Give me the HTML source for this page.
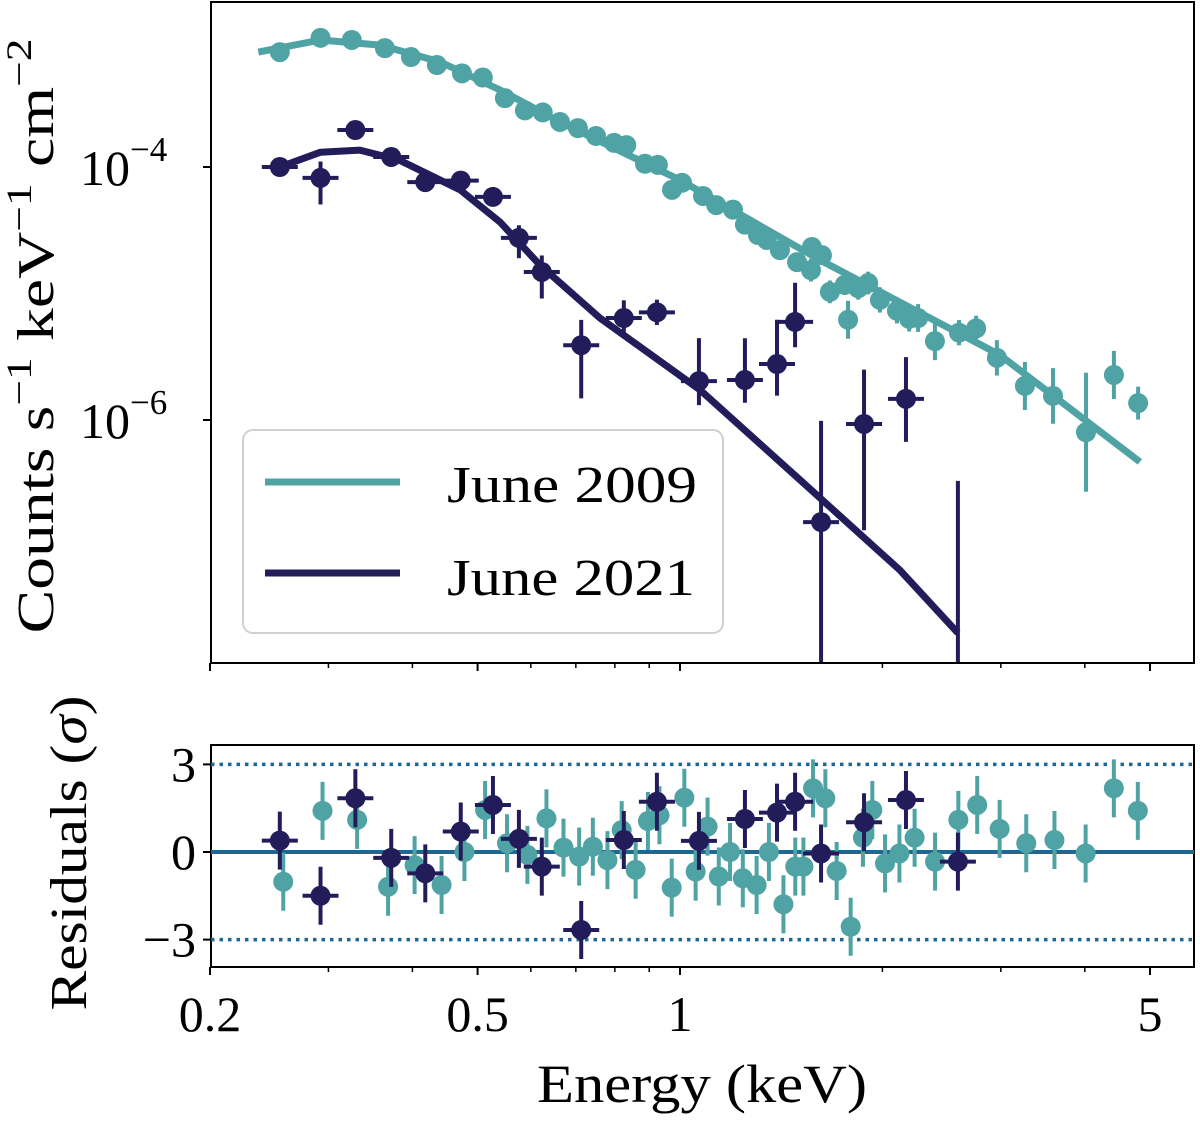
<!DOCTYPE html>
<html><head><meta charset="utf-8"><style>
html,body{margin:0;padding:0;background:#fff;}
svg{display:block;font-family:"Liberation Serif",serif;}
</style></head><body>
<svg id="chart" width="1200" height="1123" viewBox="0 0 1200 1123" xmlns="http://www.w3.org/2000/svg"></svg>
<script>
// ---- data ----
const e2009 = [0.254,0.292,0.325,0.364,0.398,0.435,0.474,0.509,0.549,0.588,0.625,0.663,0.705,0.750,0.798,0.832,0.887,0.927,0.973,1.007,1.082,1.132,1.199,1.249,1.306,1.346,1.408,1.493,1.571,1.626,1.566,1.671,1.758,1.841,1.905,1.983,2.102,2.192,2.260,2.394,2.600,2.757,2.960,3.258,3.587,4.016,4.419,4.801,1.778];
const f2009 = [8.1e-4,1.05e-3,1.01e-3,8.7e-4,7.4e-4,6.4e-4,5.5e-4,5.1e-4,3.5e-4,2.8e-4,2.7e-4,2.27e-4,2.03e-4,1.76e-4,1.55e-4,1.49e-4,1.06e-4,1.04e-4,6.6e-5,7.5e-5,5.9e-5,5.0e-5,4.6e-5,3.5e-5,2.9e-5,2.65e-5,2.2e-5,1.77e-5,2.33e-5,2.01e-5,1.53e-5,1.03e-5,1.17e-5,1.1e-5,1.21e-5,8.9e-6,7.3e-6,6.3e-6,6.4e-6,4.2e-6,4.9e-6,5.3e-6,3.1e-6,1.86e-6,1.55e-6,8.0e-7,2.27e-6,1.36e-6,6.2e-6];
const ferr2009 = [0.03,0.03,0.03,0.03,0.03,0.03,0.03,0.03,0.03,0.03,0.03,0.03,0.03,0.03,0.03,0.03,0.04,0.04,0.04,0.04,0.05,0.05,0.05,0.06,0.06,0.06,0.07,0.07,0.06,0.06,0.09,0.09,0.08,0.09,0.09,0.1,0.1,0.1,0.11,0.15,0.1,0.1,0.14,0.19,0.22,0.47,0.19,0.13,0.15];
const e2021 = [0.254,0.292,0.329,0.372,0.418,0.472,0.527,0.576,0.623,0.713,0.825,0.924,1.067,1.249,1.394,1.483,1.621,1.878,2.168];
const f2021 = [1.0e-4,8.2e-5,1.96e-4,1.2e-4,7.6e-5,7.8e-5,5.8e-5,2.75e-5,1.48e-5,3.9e-6,6.4e-6,7.1e-6,2.03e-6,2.07e-6,2.77e-6,5.96e-6,1.56e-7,9.3e-7,1.47e-6];
const errUp2021 = [0.06,0.13,0.05,0.06,0.06,0.05,0.05,0.1,0.13,0.2,0.14,0.1,0.34,0.33,0.35,0.31,0.8,0.43,0.33];
const errDn2021 = [0.06,0.21,0.05,0.06,0.06,0.05,0.05,0.16,0.21,0.42,0.13,0.1,0.19,0.18,0.25,0.2,1.2,0.84,0.34];
const limE2021 = [2.590];
const limTop2021 = [3.3e-7];
const mE2009 = [0.236,0.292,0.358,0.440,0.540,0.663,1.0,1.615,2.99,4.83];
const mF2009 = [8.1e-4,1.01e-3,9.2e-4,6.76e-4,4.06e-4,2.27e-4,7.9e-5,1.84e-5,3.27e-6,4.66e-7];
const mE2021 = [0.254,0.292,0.334,0.383,0.471,0.540,0.619,0.760,1.071,1.508,2.124,2.590];
const mF2021 = [1.0e-4,1.31e-4,1.36e-4,1.13e-4,6.6e-5,3.67e-5,1.68e-5,6.4e-6,1.73e-6,3.36e-7,6.5e-8,2.07e-8];
const rE2009 = [0.257,0.294,0.331,0.368,0.403,0.442,0.478,0.513,0.553,0.593,0.633,0.671,0.708,0.742,0.780,0.819,0.859,0.896,0.932,0.972,1.015,1.055,1.099,1.142,1.187,1.240,1.300,1.356,1.425,1.484,1.526,1.577,1.645,1.710,1.794,1.871,1.932,2.018,2.120,2.233,2.395,2.594,2.767,2.988,3.273,3.605,4.011,4.418,4.796];
const r2009 = [-1.02,1.41,1.10,-1.19,-0.45,-1.13,0.0,1.44,0.30,-0.10,1.15,0.15,-0.16,0.18,-0.28,0.75,-0.61,1.06,1.26,-1.22,1.86,-0.67,0.87,-0.84,0.0,-0.90,-1.13,0.0,-1.79,-0.50,-0.50,2.18,1.84,-0.65,-2.56,0.49,1.44,-0.39,-0.05,0.49,-0.33,1.10,1.61,0.79,0.30,0.41,-0.05,2.18,1.41];
const rE2021 = [0.254,0.292,0.329,0.372,0.418,0.472,0.527,0.576,0.623,0.713,0.825,0.924,1.067,1.249,1.394,1.483,1.621,1.878,2.168,2.590];
const r2021 = [0.39,-1.50,1.84,-0.20,-0.73,0.70,1.61,0.45,-0.50,-2.67,0.41,1.72,0.38,1.13,1.35,1.72,-0.05,1.02,1.78,-0.33];
const xMajor = [0.2,0.5,1,5];
const xMajorLbl = ["0.2","0.5","1","5"];
const xMinor = [0.3,0.4,0.6,0.7,0.8,0.9,2,3,4];
const yMajor = [1e-4,1e-6];
const yMajorExp = ["−4","−6"];
const rTicks = [3,0,-3];
const rTickLbl = ["3","0","−3"];

// ---- scales ----
const X0=211,X1=1194, TY0=2,TY1=663, RY0=745,RY1=967;
const xs = e => 680 + Math.log10(e)*672.4;
const ys = f => 167 - (Math.log10(f)+4)*126.5;
const rs = r => 852 - r*29.2;
const TEAL="#4fa3a5", NAVY="#221d5a", BLUE="#1f6790";
const svg=document.getElementById('chart');
const NS="http://www.w3.org/2000/svg";
function mk(tag,attrs,parent){const el=document.createElementNS(NS,tag);for(const k in attrs)el.setAttribute(k,attrs[k]);(parent||svg).appendChild(el);return el;}

const defs=mk('defs',{});
const cp=mk('clipPath',{id:'ctop'},defs);mk('rect',{x:X0,y:TY0,width:X1-X0,height:TY1-TY0},cp);
const cp2=mk('clipPath',{id:'cres'},defs);mk('rect',{x:X0,y:RY0,width:X1-X0,height:RY1-RY0},cp2);

const gTop=mk('g',{'clip-path':'url(#ctop)'});



function errPoint(g,cx,cy,yt,yb,hw,col,r,name){
  const gp=mk('g',{},g);
  
  
  mk('line',{x1:cx,x2:cx,y1:yt,y2:yb,stroke:col,'stroke-width':4},gp);
  mk('line',{x1:cx-hw,x2:cx+hw,y1:cy,y2:cy,stroke:col,'stroke-width':4},gp);
  mk('circle',{cx:cx,cy:cy,r:r,fill:col},gp);
}
function modelLine(g,E,F,col,name){
  const d=E.map((e,i)=>(i?'L':'M')+xs(e).toFixed(1)+','+ys(F[i]).toFixed(1)).join(' ');
  const p=mk('path',{d:d,fill:'none',stroke:col,'stroke-width':7,'stroke-linejoin':'round'},g);
  
  
}
e2009.forEach((e,i)=>{
  const cy=ys(f2009[i]);const d=ferr2009[i]*126.5;
  errPoint(gTop,xs(e),cy,cy-d,cy+d,9,TEAL,10,'data-point-2009');
});
modelLine(gTop,mE2009,mF2009,TEAL,'model-line-2009');
e2021.forEach((e,i)=>{
  const cy=ys(f2021[i]);
  errPoint(gTop,xs(e),cy,cy-errUp2021[i]*126.5,cy+errDn2021[i]*126.5,18,NAVY,10,'data-point-2021');
});
limE2021.forEach((e,i)=>{
  const l=mk('line',{x1:xs(e),x2:xs(e),y1:ys(limTop2021[i]),y2:TY1,stroke:NAVY,'stroke-width':4},gTop);
  
  
});
modelLine(gTop,mE2021,mF2021,NAVY,'model-line-2021');

function frame(y0,y1,name){const r=mk('rect',{x:X0,y:y0,width:X1-X0,height:y1-y0,fill:'none',stroke:'#000','stroke-width':2});
  }
frame(TY0,TY1,'spectrum-axes-frame');
frame(RY0,RY1,'residual-axes-frame');

[TY1,RY1].forEach(yb=>{
  xMajor.forEach(v=>mk('line',{x1:xs(v),x2:xs(v),y1:yb,y2:yb+8,stroke:'#000','stroke-width':2}));
  xMinor.forEach(v=>mk('line',{x1:xs(v),x2:xs(v),y1:yb,y2:yb+5,stroke:'#000','stroke-width':1.5}));
});
xMajor.forEach((v,i)=>{const t=mk('text',{x:xs(v),y:1031,'font-size':50,'text-anchor':'middle'});t.textContent=xMajorLbl[i];
  });
yMajor.forEach((v,i)=>{
  mk('line',{x1:X0,x2:X0-8,y1:ys(v),y2:ys(v),stroke:'#000','stroke-width':2});
  const t=mk('text',{x:80,y:ys(v)+18,'font-size':50});
  
  t.appendChild(document.createTextNode('10'));
  const s=mk('tspan',{'font-size':35,dy:-24},t);s.textContent=yMajorExp[i];
});
const gRes=mk('g',{'clip-path':'url(#cres)'});


[3,-3].forEach(v=>{const l=mk('line',{x1:X0,x2:X1,y1:rs(v),y2:rs(v),stroke:BLUE,'stroke-width':3.5,'stroke-dasharray':'3.5 5'},gRes);
  });
const zl=mk('line',{x1:X0,x2:X1,y1:rs(0),y2:rs(0),stroke:BLUE,'stroke-width':4},gRes);

rE2009.forEach((e,i)=>{const cy=rs(r2009[i]);errPoint(gRes,xs(e),cy,cy-29,cy+29,8,TEAL,10,'residual-2009');});
rE2021.forEach((e,i)=>{const cy=rs(r2021[i]);errPoint(gRes,xs(e),cy,cy-29,cy+29,18,NAVY,10,'residual-2021');});
rTicks.forEach((v,i)=>{
  mk('line',{x1:X0,x2:X0-8,y1:rs(v),y2:rs(v),stroke:'#000','stroke-width':2});
  const t=mk('text',{x:196,y:rs(v)+17,'font-size':50,'text-anchor':'end'});t.textContent=rTickLbl[i];
  
});
</script>
<svg style="position:absolute;left:0;top:0" width="1200" height="1123" xmlns="http://www.w3.org/2000/svg" font-family="Liberation Serif, serif">
  <g>
    <rect x="243" y="430" width="480" height="203" rx="10" fill="#fff" fill-opacity="0.85" stroke="#d0d0d0" stroke-width="2"/>
    <line x1="265" x2="400" y1="482" y2="482" stroke="#4fa3a5" stroke-width="7"/>
    <text x="447" y="502" font-size="52" textLength="250" lengthAdjust="spacingAndGlyphs">June 2009</text>
    <line x1="265" x2="400" y1="573" y2="573" stroke="#221d5a" stroke-width="7"/>
    <text x="447" y="595" font-size="52" textLength="248" lengthAdjust="spacingAndGlyphs">June 2021</text>
  </g>
  <text transform="translate(53,336) rotate(-90)" text-anchor="middle" font-size="52" textLength="595" lengthAdjust="spacingAndGlyphs">Counts s<tspan font-size="36" dy="-22">−1</tspan><tspan dy="22"> keV</tspan><tspan font-size="36" dy="-22">−1</tspan><tspan dy="22"> cm</tspan><tspan font-size="36" dy="-22">−2</tspan></text>
  <text transform="translate(86,853) rotate(-90)" text-anchor="middle" font-size="52" textLength="315" lengthAdjust="spacingAndGlyphs">Residuals (<tspan font-style="italic">σ</tspan>)</text>
  <text x="702" y="1102" text-anchor="middle" font-size="54" textLength="330" lengthAdjust="spacingAndGlyphs">Energy (keV)</text>
</svg>
</body></html>
